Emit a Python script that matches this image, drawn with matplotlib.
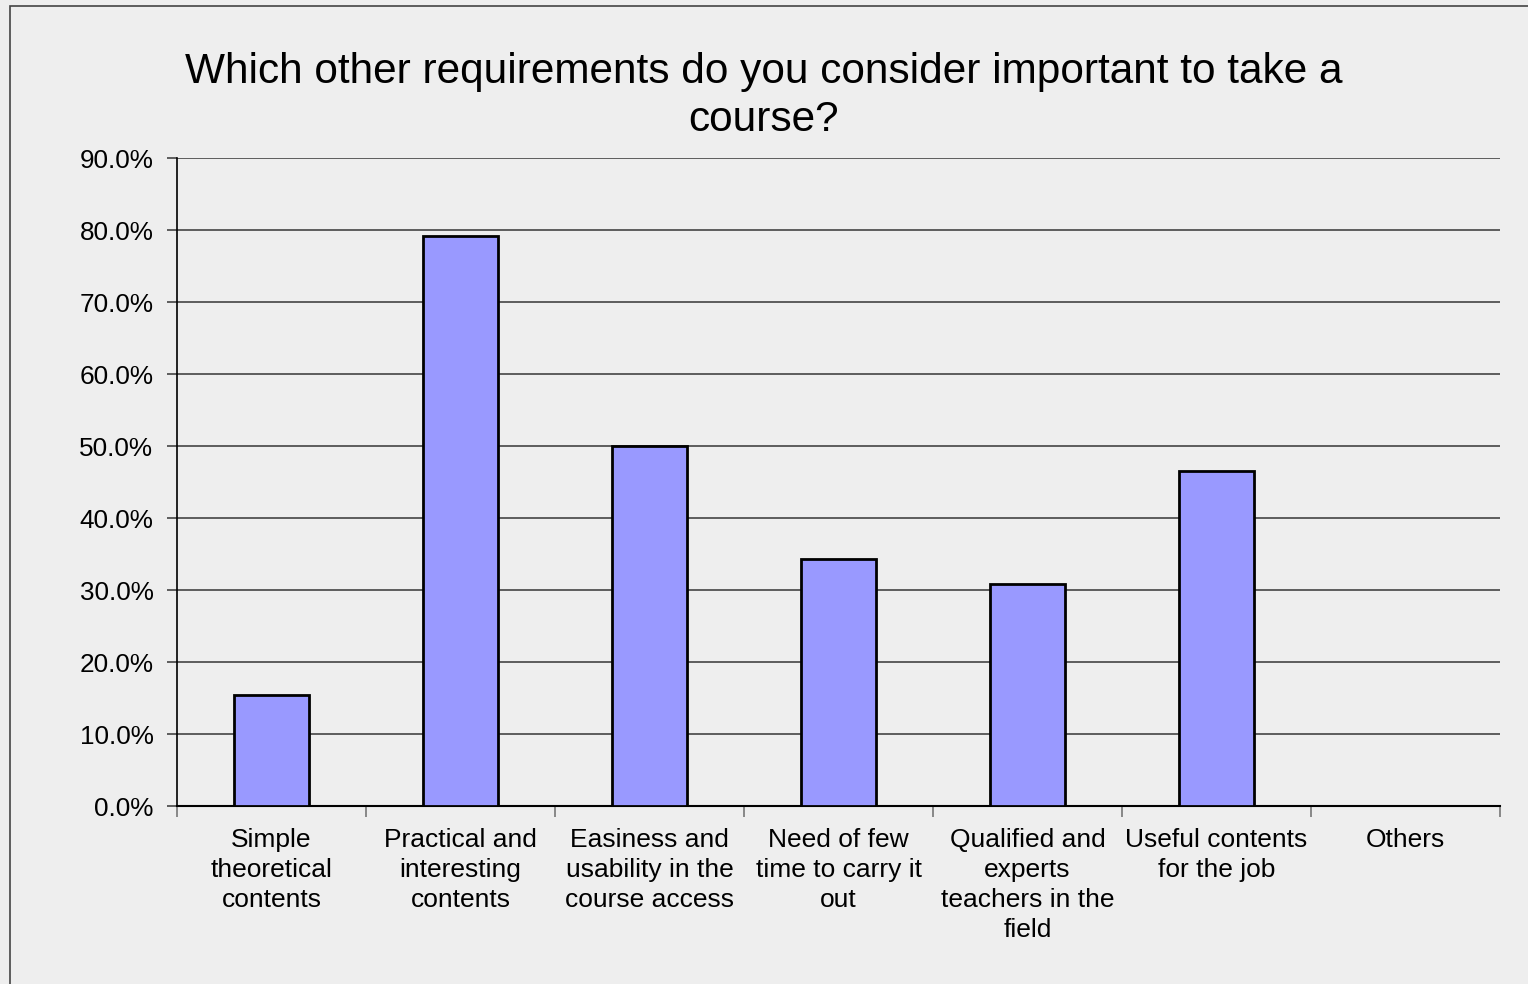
import matplotlib.pyplot as plt
import matplotlib.patches as patches
import numpy as np

plt.rcParams['font.family'] = ['Liberation Sans', 'DejaVu Sans']

categories = ['Simple\ntheoretical\ncontents',
              'Practical and\ninteresting\ncontents',
              'Easiness and\nusability in the\ncourse access',
              'Need of few\ntime to carry it\nout',
              'Qualified and\nexperts\nteachers in the\nfield',
              'Useful contents\nfor the job',
              'Others']
values = [15.4, 79.2, 50.0, 34.3, 30.8, 46.5, 0.0]
yticks = np.arange(0, 91, 10)

bg = '#eeeeee'
fig = plt.figure(figsize=(15.28, 9.84), dpi=100, facecolor=bg)
ax = fig.add_axes([177/1528, 1-806/984, (1500-177)/1528, (806-158)/984])
ax.set_facecolor(bg)

# outer border of the chart area
fig.patches.append(patches.Rectangle((10/1528, -0.01), 1.02, 1-6/984+0.01,
                                     transform=fig.transFigure, fill=False,
                                     edgecolor='#444444', linewidth=1.2))

x = np.arange(len(categories))
ax.bar(x, values, width=0.4, color='#9999ff', edgecolor='black', linewidth=2, zorder=3)

ax.set_xlim(-0.5, len(categories) - 0.5)
ax.set_ylim(0, 90)
ax.set_yticks(yticks)
ax.set_yticklabels([f'{v:.1f}%' for v in yticks], fontsize=18.8)
ax.yaxis.grid(True, color='#444444', linewidth=1.2, zorder=0)

ax.set_xticks(x)
ax.set_xticklabels(categories, fontsize=19, linespacing=1.32)
ax.tick_params(axis='x', length=0, pad=16)
ax.set_xticks(np.arange(-0.5, len(categories)), minor=True)
ax.tick_params(axis='x', which='minor', length=8, color='#777777', width=1.2)
ax.tick_params(axis='y', length=7, color='#444444', width=1.2, pad=10)

for s in ['top', 'right']:
    ax.spines[s].set_visible(False)
ax.spines['left'].set_linewidth(1.2)
ax.spines['bottom'].set_linewidth(1.5)

fig.text(0.5, 1-96/984, 'Which other requirements do you consider important to take a\ncourse?',
         ha='center', va='center', fontsize=30.5, linespacing=1.26)

plt.savefig('out.png', dpi=100, facecolor=bg)
